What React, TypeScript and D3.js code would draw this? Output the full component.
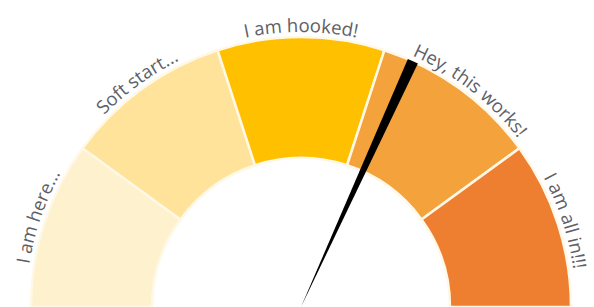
import { useMemo } from "react";
import * as d3 from "d3";

// gauge bands, equal sized
const stages = ["I am here...", "Soft start...", "I am hooked!", "Hey, this works!", "I am all in!!!"];
const stageSizes = [20, 20, 20, 20, 20];
const stageColors = ["#FEF1CE", "#FFE39A", "#FFC000", "#F4A23B", "#EE7F31"];
// needle position on a 0-100 scale
const needleValue = 63.6;
const needleWidth = 1.3;

// small clockwise nudge of each label along the rim, in degrees
const labelNudge = [1, 0, 0, 2, 0];

export default function App() {
  const width = 594;
  const height = 307;
  const cx = 301;
  const cy = 307;
  const outerR = 270;
  const innerR = 149;
  const labelR = 275;

  const angle = d3.scaleLinear().domain([0, 100]).range([-Math.PI / 2, Math.PI / 2]);

  const slices = useMemo(
    () =>
      d3
        .pie<number>()
        .sort(null)
        .startAngle(-Math.PI / 2)
        .endAngle(Math.PI / 2)(stageSizes),
    []
  );

  const band = d3.arc<d3.PieArcDatum<number>>().innerRadius(innerR).outerRadius(outerR);

  const needle = d3.arc()({
    innerRadius: 0,
    outerRadius: outerR,
    startAngle: angle(needleValue - needleWidth / 2),
    endAngle: angle(needleValue + needleWidth / 2),
  });

  // text paths follow the outer rim, clockwise, centred on each band
  const labelPath = (mid: number) => {
    const p = d3.path();
    const s = mid - Math.PI / 2 - 0.8;
    const e = mid - Math.PI / 2 + 0.8;
    p.moveTo(labelR * Math.cos(s), labelR * Math.sin(s));
    p.arc(0, 0, labelR, s, e);
    return p.toString();
  };

  return (
    <svg
      width={width}
      height={height}
      style={{ position: "absolute", left: 0, top: 0, background: "#fff" }}
    >
      <g transform={`translate(${cx},${cy})`}>
        <defs>
          {slices.map((s, i) => (
            <path
              key={`lp-${i}`}
              id={`lp-${i}`}
              d={labelPath((s.startAngle + s.endAngle) / 2 + (labelNudge[i] * Math.PI) / 180)}
              fill="none"
            />
          ))}
        </defs>
        {slices.map((s, i) => (
          <path
            key={`band-${i}`}
            d={band(s) || ""}
            fill={stageColors[i]}
            stroke="#FFF8E6"
            strokeWidth={2.5}
          />
        ))}
        <path d={needle || ""} fill="#000" />
        {slices.map((s, i) => (
          <text
            key={`lbl-${i}`}
            fontFamily="'Open Sans', sans-serif"
            fontSize={18.5}
            fill="#5E6068"
          >
            <textPath href={`#lp-${i}`} startOffset="50%" textAnchor="middle">
              {stages[i]}
            </textPath>
          </text>
        ))}
      </g>
    </svg>
  );
}
